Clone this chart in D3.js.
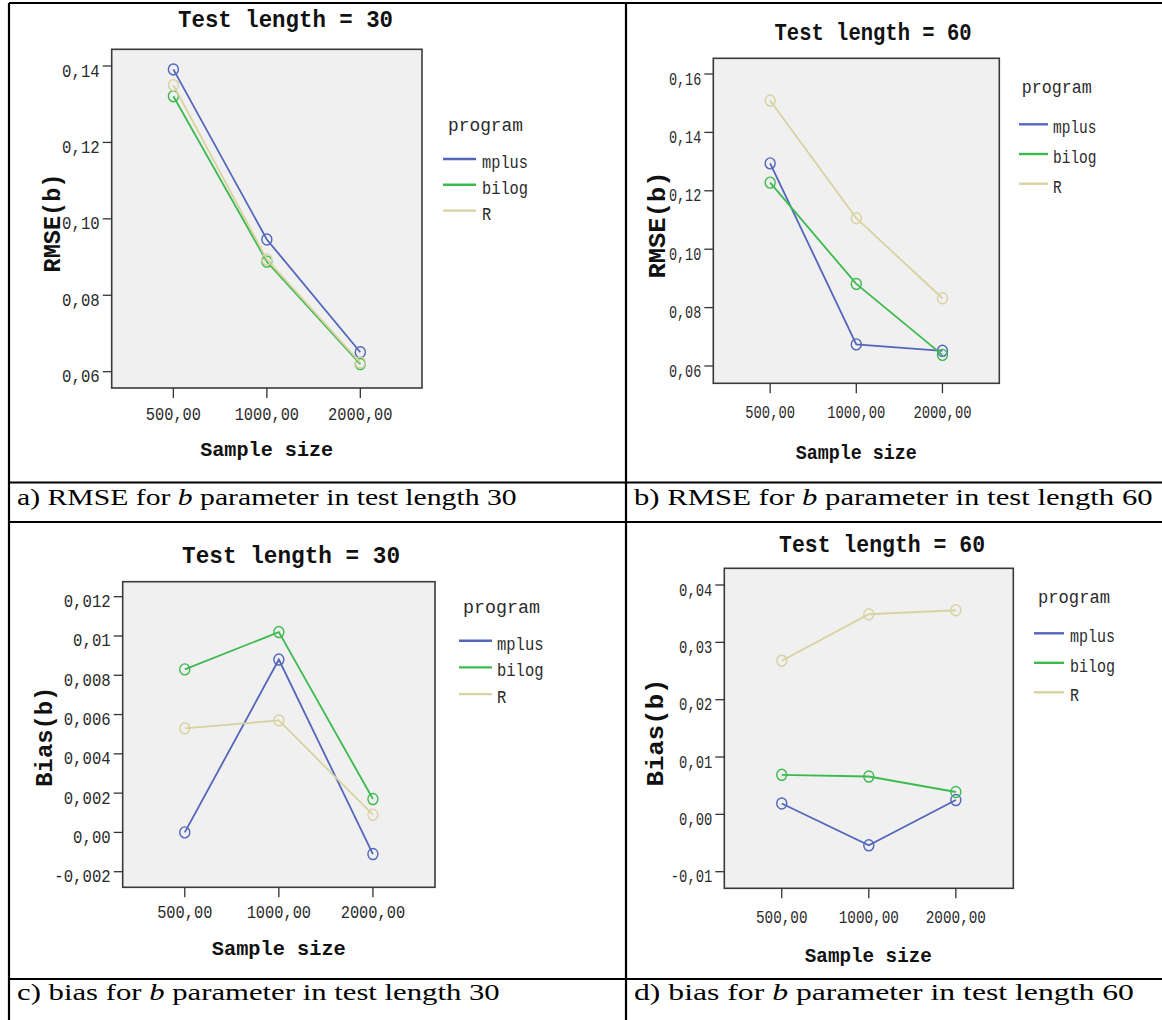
<!DOCTYPE html>
<html>
<head>
<meta charset="utf-8">
<script src="https://cdn.jsdelivr.net/npm/d3@7"></script>
<style>
  html, body { margin: 0; padding: 0; background: #fff; }
  svg { display: block; }
</style>
</head>
<body>
<div id="chart"></div>
<script>
// ---- data ----
const sampleSizes = ['500,00', '1000,00', '2000,00'];
const programs = ['mplus', 'bilog', 'R'];

const rmse30Mplus = [0.1391, 0.0946, 0.0651];
const rmse30Bilog = [0.1321, 0.0888, 0.0620];
const rmse30R     = [0.1350, 0.0894, 0.0624];

const rmse60Mplus = [0.1294, 0.0674, 0.0652];
const rmse60Bilog = [0.1228, 0.0881, 0.0638];
const rmse60R     = [0.1509, 0.1106, 0.0832];

const bias30Mplus = [0.0000, 0.0088, -0.0011];
const bias30Bilog = [0.0083, 0.0102, 0.0017];
const bias30R     = [0.0053, 0.0057, 0.0009];

const bias60Mplus = [0.0019, -0.0054, 0.0025];
const bias60Bilog = [0.0069, 0.0066, 0.0039];
const bias60R     = [0.0268, 0.0349, 0.0356];

const rmse30Ticks = [0.06, 0.08, 0.10, 0.12, 0.14];
const rmse30TickLabels = ['0,06', '0,08', '0,10', '0,12', '0,14'];
const rmse60Ticks = [0.06, 0.08, 0.10, 0.12, 0.14, 0.16];
const rmse60TickLabels = ['0,06', '0,08', '0,10', '0,12', '0,14', '0,16'];
const bias30Ticks = [-0.002, 0, 0.002, 0.004, 0.006, 0.008, 0.010, 0.012];
const bias30TickLabels = ['-0,002', '0,00', '0,002', '0,004', '0,006', '0,008', '0,01', '0,012'];
const bias60Ticks = [-0.01, 0, 0.01, 0.02, 0.03, 0.04];
const bias60TickLabels = ['-0,01', '0,00', '0,01', '0,02', '0,03', '0,04'];

// ---- styles ----
const colors = { mplus: '#5266bc', bilog: '#3dba4f', R: '#d8d2a0' };
const MONO = '"Liberation Mono", "DejaVu Sans Mono", monospace';
const SERIF = '"Liberation Serif", "DejaVu Serif", serif';

// ---- layout of each cell ----
const panels = [
  {
    title: 'Test length = 30', yLabel: 'RMSE(b)',
    series: [rmse30Mplus, rmse30Bilog, rmse30R],
    ticks: rmse30Ticks, tickLabels: rmse30TickLabels,
    frame: [111.7, 49.3, 422, 388], tickPx: [371.7, 66],
    titlePos: [285.5, 26.5, 215], yLabelPos: [60, 223, 99], xLabelPos: [266.7, 456, 133],
    xTickY: 420, xCharW: 9.2, yCharW: 9.4,
    legend: { lineX: 443, lineW: 33, titleX: 448, titleY: 131, titleW: 75, y0: 159, dy: 25.8, textX: 482, charW: 9.2 }
  },
  {
    title: 'Test length = 60', yLabel: 'RMSE(b)',
    series: [rmse60Mplus, rmse60Bilog, rmse60R],
    ticks: rmse60Ticks, tickLabels: rmse60TickLabels,
    frame: [713.3, 58.3, 999.3, 383.3], tickPx: [366, 74],
    titlePos: [873, 40, 197], yLabelPos: [665, 225, 107], xLabelPos: [856.3, 459, 121],
    xTickY: 418, xCharW: 8.3, yCharW: 8.1,
    legend: { lineX: 1019, lineW: 29, titleX: 1021.7, titleY: 93, titleW: 70, y0: 124.3, dy: 29.7, textX: 1053, charW: 8.7 }
  },
  {
    title: 'Test length = 30', yLabel: 'Bias(b)',
    series: [bias30Mplus, bias30Bilog, bias30R],
    ticks: bias30Ticks, tickLabels: bias30TickLabels,
    frame: [122.7, 581.7, 435, 887.3], tickPx: [871.7, 596.7],
    titlePos: [291, 563, 218], yLabelPos: [51.7, 736.7, 100], xLabelPos: [278.8, 955, 134],
    xTickY: 918, xCharW: 9.2, yCharW: 9.4,
    legend: { lineX: 459, lineW: 33, titleX: 463, titleY: 613, titleW: 77, y0: 640.7, dy: 26.7, textX: 497, charW: 9.3 }
  },
  {
    title: 'Test length = 60', yLabel: 'Bias(b)',
    series: [bias60Mplus, bias60Bilog, bias60R],
    ticks: bias60Ticks, tickLabels: bias60TickLabels,
    frame: [724.3, 568.3, 1013.3, 888.3], tickPx: [871.7, 585],
    titlePos: [882, 551.5, 206], yLabelPos: [663.3, 732.5, 108], xLabelPos: [868.3, 961.5, 127],
    xTickY: 923, xCharW: 8.6, yCharW: 8.3,
    legend: { lineX: 1034, lineW: 30, titleX: 1038, titleY: 603, titleW: 72, y0: 633.3, dy: 29.5, textX: 1070, charW: 9.0 }
  }
];

const captions = [
  { pre: 'a) RMSE for ', post: ' parameter in test length 30', x: 17, y: 505, w: 500 },
  { pre: 'b) RMSE for ', post: ' parameter in test length 60', x: 634, y: 505, w: 519 },
  { pre: 'c) bias for ', post: ' parameter in test length 30', x: 17, y: 1000, w: 483 },
  { pre: 'd) bias for ', post: ' parameter in test length 60', x: 634, y: 1000, w: 500 }
];

const svg = d3.select('#chart').append('svg')
  .attr('width', 1162)
  .attr('height', 1020);

// text squeezed to the measured width
const fit = (sel, w) => sel.attr('textLength', w).attr('lengthAdjust', 'spacingAndGlyphs');

// ---- table grid ----
const grid = svg.append('g').attr('stroke', '#000').attr('stroke-width', 2.2);
grid.append('line').attr('x1', 9).attr('x2', 1162).attr('y1', 3).attr('y2', 3);
grid.append('line').attr('x1', 9).attr('x2', 9).attr('y1', 3).attr('y2', 1020);
grid.append('line').attr('x1', 626).attr('x2', 626).attr('y1', 3).attr('y2', 1020);
[482.5, 522, 979].forEach(y => {
  grid.append('line').attr('x1', 9).attr('x2', 1162).attr('y1', y).attr('y2', y);
});

// ---- one line chart per cell ----
panels.forEach(p => {
  const [left, top, right, bottom] = p.frame;
  const g = svg.append('g');

  const x = d3.scalePoint()
    .domain(sampleSizes)
    .range([left, right])
    .padding(0.66);

  const y = d3.scaleLinear()
    .domain([p.ticks[0], p.ticks[p.ticks.length - 1]])
    .range(p.tickPx);

  // plot frame
  g.append('rect')
    .attr('x', left).attr('y', top)
    .attr('width', right - left).attr('height', bottom - top)
    .attr('fill', '#f0f0f0')
    .attr('stroke', '#3a3a3a')
    .attr('stroke-width', 1.6);

  // y ticks
  p.ticks.forEach((t, i) => {
    g.append('line')
      .attr('x1', left - 9).attr('x2', left)
      .attr('y1', y(t)).attr('y2', y(t))
      .attr('stroke', '#333').attr('stroke-width', 1.3);
    const label = p.tickLabels[i];
    fit(g.append('text')
      .attr('x', left - 12)
      .attr('y', y(t) + 10.5)
      .attr('text-anchor', 'end')
      .style('font-family', MONO)
      .style('font-size', '19px')
      .style('fill', '#2a2a2a')
      .text(label), label.length * p.yCharW);
  });

  // x ticks
  sampleSizes.forEach(s => {
    g.append('line')
      .attr('x1', x(s)).attr('x2', x(s))
      .attr('y1', bottom).attr('y2', bottom + 10)
      .attr('stroke', '#333').attr('stroke-width', 1.3);
    fit(g.append('text')
      .attr('x', x(s))
      .attr('y', p.xTickY)
      .attr('text-anchor', 'middle')
      .style('font-family', MONO)
      .style('font-size', '19px')
      .style('fill', '#2a2a2a')
      .text(s), s.length * p.xCharW);
  });

  // series lines and hollow markers
  const line = d3.line()
    .x((d, i) => x(sampleSizes[i]))
    .y(d => y(d));

  p.series.forEach((vals, k) => {
    const c = colors[programs[k]];
    g.append('path')
      .datum(vals)
      .attr('d', line)
      .attr('fill', 'none')
      .attr('stroke', c)
      .attr('stroke-width', 1.8);
    g.selectAll(null)
      .data(vals)
      .enter()
      .append('ellipse')
      .attr('cx', (d, i) => x(sampleSizes[i]))
      .attr('cy', d => y(d))
      .attr('rx', 5)
      .attr('ry', 5.5)
      .attr('fill', 'none')
      .attr('stroke', c)
      .attr('stroke-width', 1.4);
  });

  // title
  fit(g.append('text')
    .attr('x', p.titlePos[0]).attr('y', p.titlePos[1])
    .attr('text-anchor', 'middle')
    .style('font-family', MONO)
    .style('font-weight', 'bold')
    .style('font-size', '24px')
    .style('fill', '#111')
    .text(p.title), p.titlePos[2]);

  // axis titles
  fit(g.append('text')
    .attr('transform', `translate(${p.yLabelPos[0]},${p.yLabelPos[1]}) rotate(-90)`)
    .attr('text-anchor', 'middle')
    .style('font-family', MONO)
    .style('font-weight', 'bold')
    .style('font-size', '23px')
    .style('fill', '#111')
    .text(p.yLabel), p.yLabelPos[2]);

  fit(g.append('text')
    .attr('x', p.xLabelPos[0]).attr('y', p.xLabelPos[1])
    .attr('text-anchor', 'middle')
    .style('font-family', MONO)
    .style('font-weight', 'bold')
    .style('font-size', '21px')
    .style('fill', '#111')
    .text('Sample size'), p.xLabelPos[2]);

  // legend
  const L = p.legend;
  fit(g.append('text')
    .attr('x', L.titleX).attr('y', L.titleY)
    .style('font-family', MONO)
    .style('font-size', '19px')
    .style('fill', '#2a2a2a')
    .text('program'), L.titleW);

  programs.forEach((name, k) => {
    const ly = L.y0 + k * L.dy;
    g.append('line')
      .attr('x1', L.lineX).attr('x2', L.lineX + L.lineW)
      .attr('y1', ly).attr('y2', ly)
      .attr('stroke', colors[name])
      .attr('stroke-width', 2.4);
    fit(g.append('text')
      .attr('x', L.textX).attr('y', ly + 9)
      .style('font-family', MONO)
      .style('font-size', '18px')
      .style('fill', '#2a2a2a')
      .text(name), name.length * L.charW);
  });
});

// ---- captions under each chart ----
captions.forEach(c => {
  const t = svg.append('text')
    .attr('x', 0).attr('y', 0)
    .style('font-family', SERIF)
    .style('font-size', '23px')
    .style('fill', '#000');
  t.append('tspan').text(c.pre);
  t.append('tspan').style('font-style', 'italic').text('b');
  t.append('tspan').text(c.post);
  const len = t.node().getComputedTextLength();
  t.attr('transform', `translate(${c.x},${c.y}) scale(${c.w / len},1)`);
});
</script>
</body>
</html>
